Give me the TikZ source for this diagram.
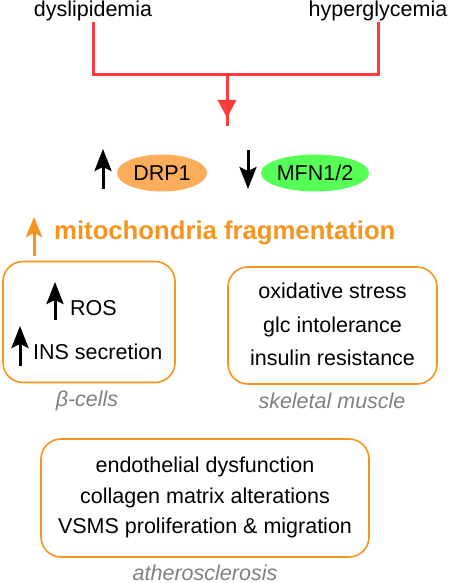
\documentclass[tikz,border=0pt]{standalone}
\usepackage{fontspec}
\setmainfont{Liberation Sans}
\usetikzlibrary{shapes.geometric,arrows.meta}
\definecolor{redc}{HTML}{FF3B3B}
\definecolor{orc}{HTML}{F7941D}
\definecolor{orfill}{HTML}{FBAD5A}
\definecolor{grfill}{HTML}{55FF55}
\definecolor{grayc}{HTML}{808080}
\tikzset{
  txt/.style={inner sep=0pt, font=\fontsize{21.5}{26}\selectfont},
  redline/.style={draw=redc, line width=3pt},
  blackarrow/.style={draw=black, line width=3pt, -{Stealth[length=22pt,width=17pt,inset=4pt]}},
  orarrow/.style={draw=orc, line width=3pt, -{Stealth[length=20pt,width=16pt,inset=4pt]}},
  oval/.style={ellipse, inner sep=0pt, font=\fontsize{21.5}{26}\selectfont},
  rbox/.style={draw=orc, line width=1.6pt, rounded corners=20pt, inner sep=0pt},
  caption/.style={inner sep=0pt, text=grayc, font=\fontsize{21.5}{26}\selectfont\itshape},
}
\begin{document}
\begin{tikzpicture}[x=1pt,y=-1pt]
\useasboundingbox (0,0) rectangle (448,583);
% top causes
\node[txt, anchor=base] (dys) at (93,17) {dyslipidemia};
\node[txt, anchor=base] (hyp) at (378,17) {hyperglycemia};
\coordinate (j) at (227,75);
\coordinate (tip) at (227,118);
\coordinate (stub) at (227,126);
\draw[redline] (dys.south) |- (j) -| (hyp.south);
\draw[redline] (j) -- (stub);
\draw[redline, -{Triangle[length=18pt,width=18pt]}] (j) -- (tip);
% DRP1 / MFN
\node[oval, fill=orfill, minimum width=90pt, minimum height=37pt] (drp) at (162,173) {DRP1};
\node[oval, fill=grfill, minimum width=102pt, minimum height=37pt] (mfn) at (315,173) {MFN1/2};
\coordinate (a1s) at (103,189);
\coordinate (a1e) at (103,149);
\draw[blackarrow] (a1s) -- (a1e);
\coordinate (a2s) at (248,150);
\coordinate (a2e) at (248,189);
\draw[blackarrow] (a2s) -- (a2e);
% mitochondria fragmentation
\coordinate (a3s) at (34,256);
\coordinate (a3e) at (34,217);
\draw[orarrow] (a3s) -- (a3e);
\node[inner sep=0pt, anchor=west, text=orc, font=\fontsize{25.7}{30}\selectfont\bfseries] (frag) at (54,233) {mitochondria fragmentation};
% beta cells box
\node[rbox, minimum width=172pt, minimum height=121pt] (bbox) at (89,322) {};
\node[txt, anchor=west] (ros) at (70,308) {ROS};
\node[txt, anchor=west] (ins) at (33,352) {INS secretion};
\coordinate (a4s) at (55,320);
\coordinate (a4e) at (55,282);
\draw[blackarrow] (a4s) -- (a4e);
\coordinate (a5s) at (20,366);
\coordinate (a5e) at (20,326);
\draw[blackarrow] (a5s) -- (a5e);
\node[caption] (bcap) at (87,401) {β-cells};
% skeletal muscle box
\node[rbox, minimum width=209pt, minimum height=117pt] (sbox) at (332.5,325.5) {};
\node[txt, align=center, font=\fontsize{21.5}{33.5}\selectfont] (stxt) at (332.5,324.5) {oxidative stress\\glc intolerance\\insulin resistance};
\node[caption] (scap) at (332,401) {skeletal muscle};
% atherosclerosis box
\node[rbox, minimum width=328pt, minimum height=118pt] (abox) at (205,498) {};
\node[txt, align=center, font=\fontsize{21.5}{30.5}\selectfont] (atxt) at (205,497.5) {endothelial dysfunction\\collagen matrix alterations\\VSMS proliferation \& migration};
\node[caption, anchor=base] (acap) at (205,580) {atherosclerosis};
\end{tikzpicture}
\end{document}
